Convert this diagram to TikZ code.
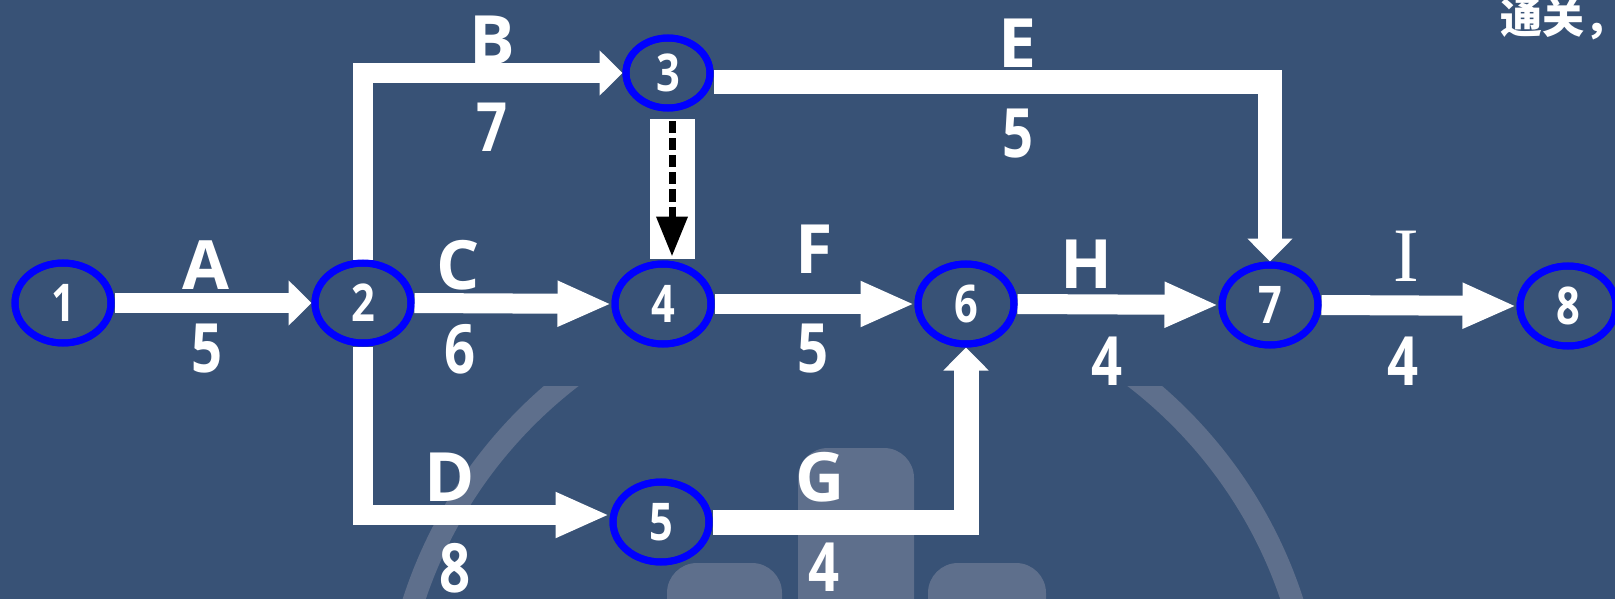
\documentclass[tikz,border=0pt]{standalone}
\usepackage{fontspec}
\usetikzlibrary{arrows.meta,calc,shapes.geometric}
\newfontfamily\labfont{Open Sans}
\newfontfamily\serfont{Liberation Serif}
\newfontfamily\cjkfont{Noto Sans CJK SC}
\definecolor{bg}{RGB}{56,82,118}
\definecolor{wm}{RGB}{94,111,140}
\definecolor{ring}{RGB}{0,0,255}
\newcommand\dg[1]{\scalebox{0.8}[1]{#1}}
\begin{document}
\begin{tikzpicture}[x=1pt,y=-1pt,
  ev/.style={ellipse, draw=ring, line width=7pt, minimum width=96pt, minimum height=80pt,
    inner sep=0pt, text=white, font=\labfont\bfseries\fontsize{52}{52}\selectfont},
  evsmall/.style={ev, minimum width=84pt, minimum height=70pt},
  flow/.style={draw=white, line width=20pt, line join=miter},
  shorthead/.style={-{Triangle[length=23pt,width=44pt]}},
  longhead/.style={-{Triangle[length=54pt,width=42pt]}},
  lbl/.style={text=white, inner sep=0pt, font=\labfont\bfseries\fontsize{68}{68}\selectfont},
  wmark/.style={fill=wm, rounded corners=30pt}]
\useasboundingbox (0,0) rectangle (1615,599);
\fill[bg] (0,0) rectangle (1615,599);
% watermark
\begin{scope}
  \clip (0,386) rectangle (1615,599);
  \draw[wm, line width=22pt] (853,744) circle[radius=462pt];
\end{scope}
\fill[wmark] (798,448) rectangle (914,650);
\fill[wmark] (667,563) rectangle (782,650);
\fill[wmark] (928,563) rectangle (1046,650);
% nodes
\node[ev] (n1) at (63,303) {\dg{1}};
\node[ev] (n2) at (363,303) {\dg{2}};
\node[evsmall] (n3) at (668,73) {\dg{3}};
\node[ev] (n4) at (663,304) {\dg{4}};
\node[ev] (n5) at (661,522) {\dg{5}};
\node[ev] (n6) at (966,304) {\dg{6}};
\node[ev] (n7) at (1270,305) {\dg{7}};
\node[ev] (n8) at (1568,306) {\dg{8}};
% connectors
\draw[flow,shorthead] (n1.east) -- (n2.west);
\draw[flow,shorthead] (n2.north) |- (n3.west);
\draw[flow,line width=24pt,shorthead] ([yshift=-9pt]n3.east) -| (n7.north);
\draw[flow,longhead] (n2.east) -- (n4.west);
\draw[flow,longhead] (n2.south) |- ([yshift=7pt]n5.west);
\draw[flow,longhead] (n4.east) -- (n6.west);
\draw[flow,line width=25pt,shorthead] (n5.east) -| (n6.south);
\draw[flow,longhead] (n6.east) -- (n7.west);
\draw[flow,longhead] (n7.east) -- (n8.west);
% dummy activity 3 -> 4
\fill[white] ($(n3.south)+(-18,8)$) rectangle ($(n3.south |- n4.north)+(27,-2)$);
\draw[black, line width=7pt, dash pattern=on 12pt off 5pt, -{Triangle[length=40pt,width=30pt]}]
  ($(n3.south)+(4,10)$) -- ($(n3.south |- n4.north)+(4,-4)$);
% redraw rings on top
\foreach \n in {n1,n2,n4,n5,n6,n7,n8} {\draw[ring, line width=7pt] (\n.center) ellipse[x radius=48pt, y radius=40pt];}
\draw[ring, line width=7pt] (n3.center) ellipse[x radius=42pt, y radius=35pt];
% labels
\node[lbl] (la) at (206,265) {A};
\node[lbl] (da) at (207,349) {\dg{5}};
\node[lbl] (lb) at (492,40) {B};
\node[lbl] (db) at (492,127) {\dg{7}};
\node[lbl] (le) at (1018,43) {E};
\node[lbl] (de) at (1018,134) {\dg{5}};
\node[lbl] (lc) at (458,265) {C};
\node[lbl] (dc) at (460,349) {\dg{6}};
\node[lbl] (lf) at (814,249) {F};
\node[lbl] (df) at (813,349) {\dg{5}};
\node[lbl] (lh) at (1087,264) {H};
\node[lbl] (dh) at (1107,361) {\dg{4}};
\node[text=white, inner sep=0pt, font=\serfont\fontsize{77}{77}\selectfont] (li) at (1406,256) {I};
\node[lbl] (di) at (1403,361) {\dg{4}};
\node[lbl] (ld) at (450,477) {D};
\node[lbl] (dd) at (455,568) {\dg{8}};
\node[lbl] (lg) at (820,477) {G};
\node[lbl] (dgg) at (824,567) {\dg{4}};
\node[anchor=base west, inner sep=0pt, text=white, font=\cjkfont\bfseries\fontsize{42}{42}\selectfont] (tt) at (1500,34) {通关，};
\end{tikzpicture}
\end{document}
